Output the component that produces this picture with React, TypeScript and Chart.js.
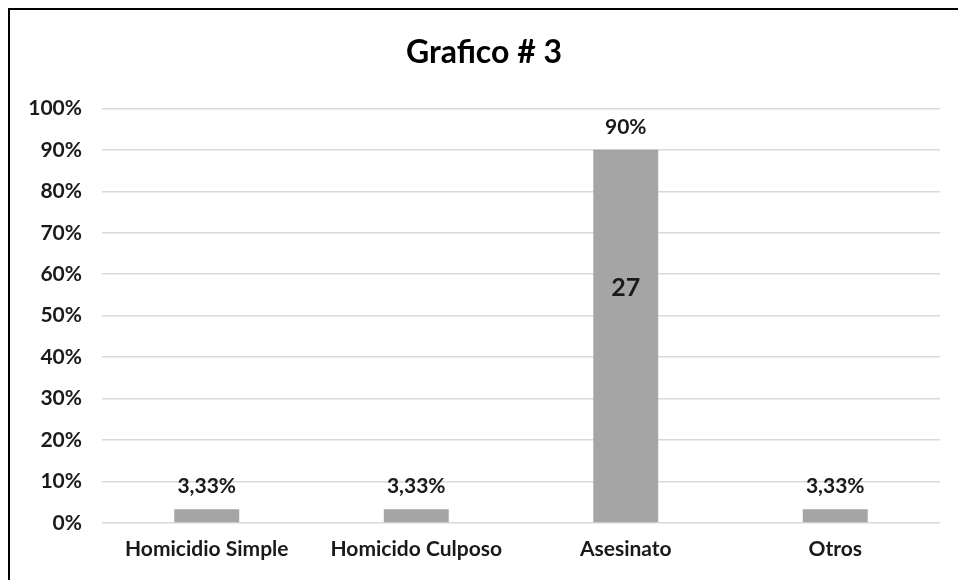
import React, { useEffect, useRef } from "react";
import { Chart, registerables } from "chart.js";

Chart.register(...registerables);

const titleText = "Grafico # 3";
const categories = ["Homicidio Simple", "Homicido Culposo", "Asesinato", "Otros"];
const percentValues = [3.33, 3.33, 90, 3.33];
const percentLabels = ["3,33%", "3,33%", "90%", "3,33%"];
const countValues = [1, 1, 27, 1];
const yTickStep = 10;
const yMax = 100;

const FONT = "Lato, 'Open Sans', sans-serif";
const TEXT = "#1a1a1a";

const labelPlugin = {
  id: "barLabels",
  afterDatasetsDraw(chart: any) {
    const ctx = chart.ctx;
    const meta = chart.getDatasetMeta(0);
    ctx.save();
    ctx.fillStyle = TEXT;
    ctx.textAlign = "center";
    ctx.textBaseline = "middle";
    meta.data.forEach((bar: any, i: number) => {
      ctx.font = `bold 21px ${FONT}`;
      ctx.fillText(percentLabels[i], bar.x, bar.y - 23);
      const h = bar.base - bar.y;
      if (h > 40) {
        ctx.font = `bold 25px ${FONT}`;
        ctx.fillText(String(countValues[i]), bar.x, bar.y + h * 0.37);
      }
    });
    ctx.restore();
  },
};

export default function App() {
  const ref = useRef<HTMLCanvasElement | null>(null);
  useEffect(() => {
    if (!ref.current) return;
    const chart = new Chart(ref.current, {
      type: "bar",
      data: {
        labels: categories,
        datasets: [
          {
            data: percentValues,
            backgroundColor: "#a5a5a5",
            borderWidth: 0,
            categoryPercentage: 1,
            barPercentage: 0.31,
          },
        ],
      },
      plugins: [labelPlugin],
      options: {
        responsive: false,
        animation: false,
        layout: { padding: { top: 0, right: 18, left: 18, bottom: 0 } },
        plugins: {
          legend: { display: false },
          tooltip: { enabled: false },
          title: {
            display: true,
            text: titleText,
            color: "#000",
            font: { family: FONT, size: 32, weight: "bold", lineHeight: 1.2 },
            padding: { top: 23, bottom: 37 },
          },
        },
        scales: {
          x: {
            grid: { display: false },
            border: { display: false },
            ticks: {
              color: TEXT,
              font: { family: FONT, size: 21, weight: "bold" },
              padding: 6,
            },
            afterFit(scale: any) {
              scale.height = 57;
            },
          },
          y: {
            min: 0,
            max: yMax,
            grid: { color: "#d9d9d9", lineWidth: 1.5, drawTicks: false },
            border: { display: false },
            ticks: {
              stepSize: yTickStep,
              color: TEXT,
              font: { family: FONT, size: 21, weight: "bold" },
              padding: 20,
              callback: (v: any) => `${v}%`,
            },
            afterFit(scale: any) {
              scale.width = 74;
            },
          },
        },
      },
    });
    return () => chart.destroy();
  }, []);
  return (
    <div
      style={{
        position: "absolute",
        left: 8,
        top: 8,
        width: 950,
        height: 572,
        borderTop: "2px solid #000",
        borderLeft: "2px solid #000",
        background: "#fff",
      }}
    >
      <canvas ref={ref} width={948} height={570} style={{ display: "block" }} />
    </div>
  );
}
